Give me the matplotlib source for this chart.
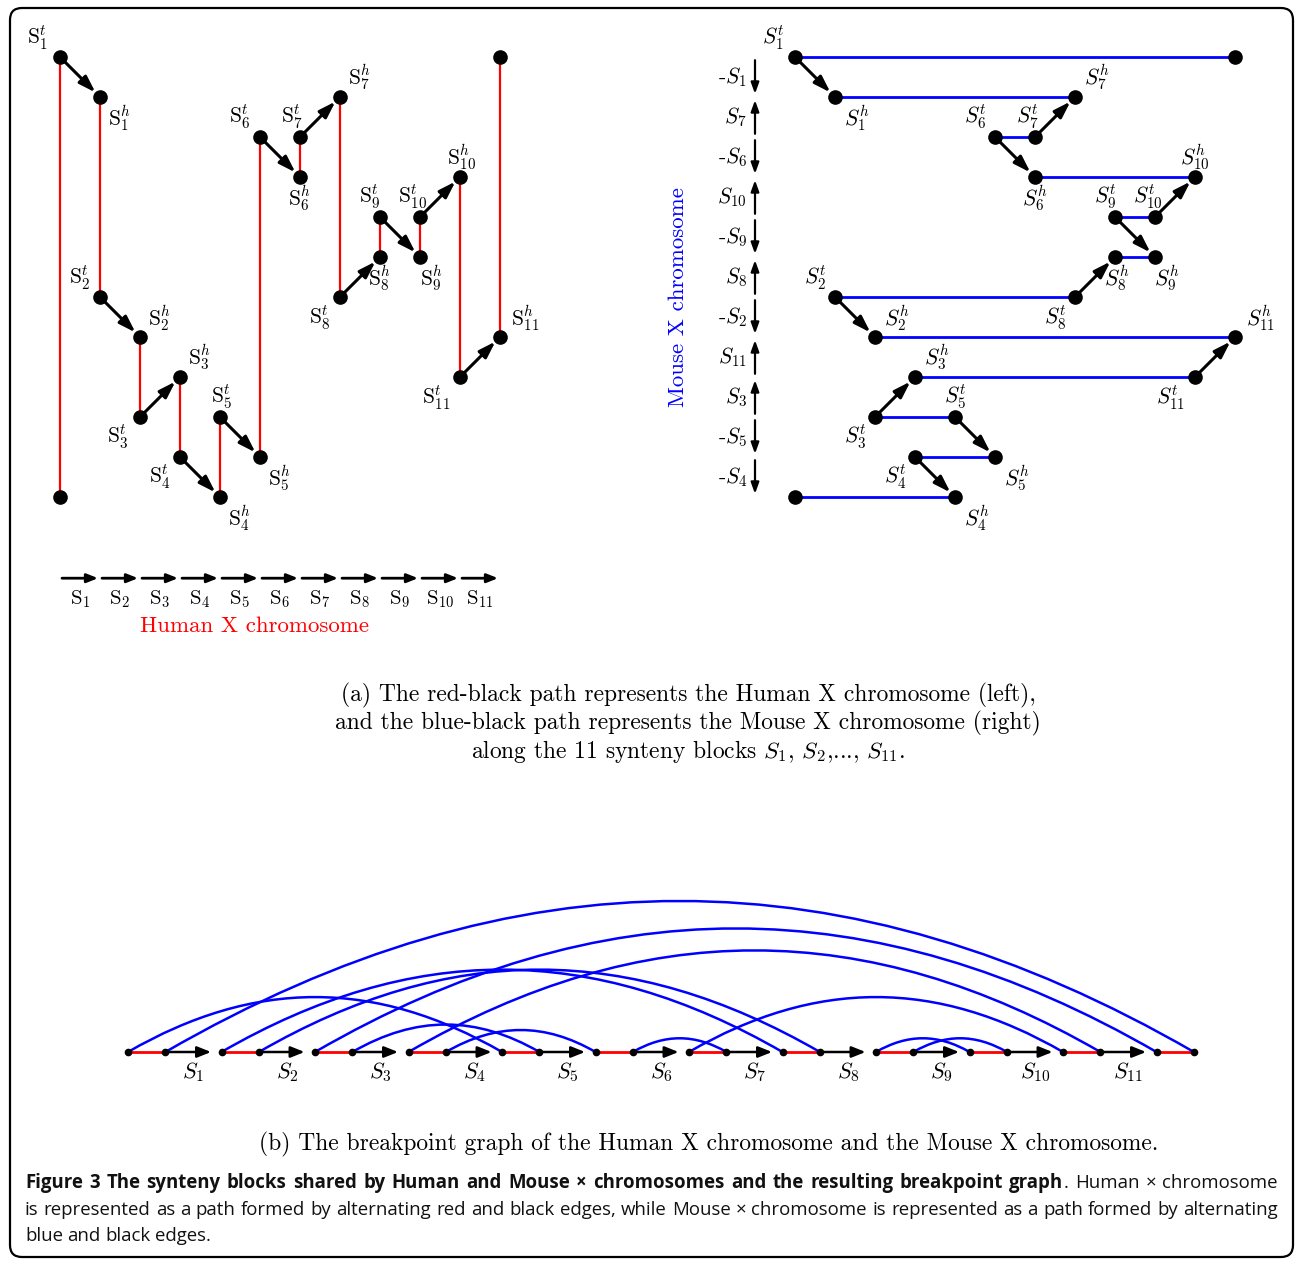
import matplotlib
matplotlib.use("Agg")
import matplotlib.pyplot as plt
from matplotlib.patches import FancyArrowPatch, FancyBboxPatch, PathPatch
from matplotlib.path import Path
import numpy as np

plt.rcParams['font.family'] = ['cmr10']
plt.rcParams['mathtext.fontset'] = 'cm'
plt.rcParams['axes.unicode_minus'] = False

# ---------------- data ----------------
human_blocks = [1, 2, 3, 4, 5, 6, 7, 8, 9, 10, 11]          # human order
mouse_order = [-1, 7, -6, 10, -9, 8, -2, 11, 3, -5, -4]      # mouse order (signed)
cap_rows = {'start': 11, 'end': 0}                           # rows of the two chromosome ends
human_axis_labels = [r'$\mathrm{S}_{%d}$' % b for b in human_blocks]
mouse_axis_labels = [('-' if s < 0 else '') + r'$S_{%d}$' % abs(s) for s in mouse_order]
graph_block_labels = [r'$S_{%d}$' % b for b in human_blocks]

# label placement (pixel offsets from node: dx right, dy down) -- layout only
left_off = {('t', 1): (-22, -19), ('h', 1): (20, 21), ('t', 2): (-20, -19), ('h', 2): (20, -19),
            ('t', 3): (-22, 20), ('h', 3): (20, -20), ('t', 4): (-20, 20), ('h', 4): (20, 21),
            ('t', 5): (2, -20), ('h', 5): (20, 21), ('t', 6): (-20, -20), ('h', 6): (0, 21),
            ('t', 7): (-8, -20), ('h', 7): (20, -20), ('t', 8): (-20, 21), ('h', 8): (0, 21),
            ('t', 9): (-10, -20), ('h', 9): (12, 21), ('t', 10): (-7, -20), ('h', 10): (2, -20),
            ('t', 11): (-24, 21), ('h', 11): (25, -19)}
right_off = {('t', 1): (-22, -19), ('h', 1): (22, 21), ('h', 7): (22, -20), ('t', 6): (-20, -20),
             ('t', 7): (-8, -20), ('h', 6): (0, 21), ('h', 10): (0, -20), ('t', 9): (-10, -20),
             ('t', 10): (-7, -20), ('h', 8): (2, 21), ('h', 9): (12, 21), ('t', 2): (-20, -19),
             ('t', 8): (-20, 21), ('h', 2): (22, -19), ('h', 11): (25, -19), ('h', 3): (22, -20),
             ('t', 11): (-25, 21), ('t', 5): (0, -20), ('t', 3): (-20, 20), ('h', 5): (22, 21),
             ('t', 4): (-20, 20), ('h', 4): (22, 21)}

# ---------------- derived graph structure ----------------
nodes = [('cap', 'start')] + [(e, b) for b in human_blocks for e in ('t', 'h')] + [('cap', 'end')]
n_cols = len(human_blocks)

def col_of(node):
    kind, b = node
    if kind == 'cap':
        return 0 if b == 'start' else n_cols
    return human_blocks.index(b) + (0 if kind == 't' else 1)

def row_of(node):
    kind, b = node
    if kind == 'cap':
        return cap_rows[b]
    for k, s in enumerate(mouse_order):
        if abs(s) == b:
            if s < 0:
                return k if kind == 't' else k + 1
            return k + 1 if kind == 't' else k

cols = [col_of(n) for n in nodes]
rows = [row_of(n) for n in nodes]
red_pairs = [(2 * j, 2 * j + 1) for j in range(len(nodes) // 2)]
black_pairs = [(2 * j + 1, 2 * j + 2) for j in range(len(human_blocks))]
blue_pairs = []
for r in range(len(mouse_order) + 1):
    idx = sorted([i for i in range(len(nodes)) if rows[i] == r], key=lambda i: cols[i])
    blue_pairs.append((idx[0], idx[1]))

# ---------------- figure ----------------
W, H = 1295, 1261
fig = plt.figure(figsize=(W / 100, H / 100), dpi=100)

def px_axes(x0, y0, x1, y1, ox, oy, u, yup=False):
    ax = fig.add_axes([x0 / W, 1 - y1 / H, (x1 - x0) / W, (y1 - y0) / H])
    ax.set_xlim((x0 - ox) / u, (x1 - ox) / u)
    if yup:
        ax.set_ylim((oy - y1) / u, (oy - y0) / u)
    else:
        ax.set_ylim((y1 - oy) / u, (y0 - oy) / u)
    ax.axis('off')
    ax.patch.set_alpha(0)
    return ax

ax0 = fig.add_axes([0, 0, 1, 1])
ax0.set_xlim(0, W)
ax0.set_ylim(H, 0)
ax0.axis('off')

BLUE = '#0000ff'
RED = '#ff0000'
LAB_FS = 15.5

def black_arrow(ax, p, q, shrinkB=4.6, ms=18, hl=0.55, hw=0.18, lw=2.2):
    ax.add_patch(FancyArrowPatch(p, q, arrowstyle='-|>,head_length=%g,head_width=%g' % (hl, hw),
                                 mutation_scale=ms, lw=lw, color='black', shrinkA=0,
                                 shrinkB=shrinkB, zorder=2))

# ---- left panel (human) ----
axL = px_axes(15, 12, 650, 660, 60, 57, 40)
for a, b in red_pairs:
    axL.plot([cols[a], cols[b]], [rows[a], rows[b]], color=RED, lw=1.6, zorder=1)
for a, b in black_pairs:
    black_arrow(axL, (cols[a], rows[a]), (cols[b], rows[b]))
axL.plot(cols, rows, 'o', ms=9.5, color='black', zorder=3)
for i, nd in enumerate(nodes):
    if nd in left_off:
        dx, dy = left_off[nd]
        axL.annotate(r'$\mathrm{S}_{%d}^{%s}$' % (nd[1], nd[0]), (cols[i], rows[i]),
                     xytext=(dx, -dy), textcoords='offset pixels', ha='center', va='center',
                     fontsize=LAB_FS)
for i, lab in enumerate(human_axis_labels):
    axL.add_patch(FancyArrowPatch((i + 0.05, 13.03), (i + 0.95, 13.03),
                                  arrowstyle='-|>,head_length=0.5,head_width=0.2',
                                  mutation_scale=13, lw=2, color='black', shrinkA=0, shrinkB=0))
    axL.text(i + 0.5, 13.55, lab, ha='center', va='center', fontsize=15)
axL.text(4.875, 14.22, 'Human X chromosome', color=RED, ha='center', va='center', fontsize=16.5)

# ---- right panel (mouse) ----
axR = px_axes(650, 12, 1290, 660, 795, 57, 40)
for a, b in blue_pairs:
    axR.plot([cols[a], cols[b]], [rows[a], rows[b]], color=BLUE, lw=2, zorder=1)
for a, b in black_pairs:
    black_arrow(axR, (cols[a], rows[a]), (cols[b], rows[b]))
axR.plot(cols, rows, 'o', ms=9.5, color='black', zorder=3)
for i, nd in enumerate(nodes):
    if nd in right_off:
        dx, dy = right_off[nd]
        axR.annotate(r'$S_{%d}^{%s}$' % (nd[1], nd[0]), (cols[i], rows[i]),
                     xytext=(dx, -dy), textcoords='offset pixels', ha='center', va='center',
                     fontsize=LAB_FS)
for k, (s, lab) in enumerate(zip(mouse_order, mouse_axis_labels)):
    top, bot = k + 0.08, k + 0.92
    p, q = ((-1, top), (-1, bot)) if s < 0 else ((-1, bot), (-1, top))
    axR.add_patch(FancyArrowPatch(p, q, arrowstyle='-|>,head_length=0.55,head_width=0.2',
                                  mutation_scale=12, lw=1.6, color='black', shrinkA=0, shrinkB=0))
    axR.text(-1.2, k + 0.5, lab, ha='right', va='center', fontsize=15.5)
axR.text(-2.925, 6.0, 'Mouse X chromosome', color=BLUE, rotation=90, ha='center', va='center',
         fontsize=16.5)

# ---- bottom panel (breakpoint graph) ----
axB = px_axes(15, 860, 1290, 1100, 128, 1052, 37.4, yup=True)
gx = [2.5 * (k // 2) + (k % 2) for k in range(len(nodes))]
for a, b in red_pairs:
    axB.plot([gx[a], gx[b]], [0, 0], color=RED, lw=2, zorder=1)
for j, (a, b) in enumerate(black_pairs):
    black_arrow(axB, (gx[a], 0), (gx[b], 0), shrinkB=7.5, ms=15, hl=0.55, hw=0.22, lw=1.8)
    axB.text((gx[a] + gx[b]) / 2, -0.55, graph_block_labels[j], ha='center', va='center',
             fontsize=16)
ang = np.deg2rad(30)
for a, b in blue_pairs:
    xa, xb = sorted([gx[a], gx[b]])
    d = 0.3915 * (xb - xa)
    verts = [(xa, 0), (xa + d * np.cos(ang), d * np.sin(ang)),
             (xb - d * np.cos(ang), d * np.sin(ang)), (xb, 0)]
    path = Path(verts, [Path.MOVETO, Path.CURVE4, Path.CURVE4, Path.CURVE4])
    axB.add_patch(PathPatch(path, fill=False, ec=BLUE, lw=1.8, zorder=1.5))
axB.plot(gx, [0] * len(gx), 'o', ms=4.5, color='black', zorder=3)

# ---- captions ----
CA_FS = 16.9
ax0.text(688, 701, '(a) The red-black path represents the Human X chromosome (left),',
         ha='center', va='baseline', fontsize=CA_FS)
ax0.text(688, 729, 'and the blue-black path represents the Mouse X chromosome (right)',
         ha='center', va='baseline', fontsize=CA_FS)
ax0.text(688, 758, r'along the 11 synteny blocks $S_1$, $S_2$,..., $S_{11}$.',
         ha='center', va='baseline', fontsize=CA_FS)
ax0.text(709, 1150, '(b) The breakpoint graph of the Human X chromosome and the Mouse X chromosome.',
         ha='center', va='baseline', fontsize=CA_FS)

ax0.add_patch(FancyBboxPatch((10, 8), 1283, 1249, boxstyle='round,pad=0,rounding_size=12',
                             fill=False, ec='black', lw=1.6))

renderer = fig.canvas.get_renderer()
CAP_FS = 13.4

def place_line(words, x0, x1, y, justify=True):
    items = []
    total = 0
    for w in words:
        parts = []
        for txt, wt in w:
            t = ax0.text(0, y, txt, fontsize=CAP_FS, fontweight=wt, family='Open Sans',
                         va='baseline', ha='left', color='#111111')
            wd = t.get_window_extent(renderer=renderer).width
            parts.append((t, wd))
            total += wd
        items.append(parts)
    if justify and len(items) > 1:
        gap = (x1 - x0 - total) / (len(items) - 1)
    else:
        gap = 4.6
    x = x0
    for parts in items:
        for t, wd in parts:
            t.set_x(x)
            x += wd
        x += gap

bold_part = 'Figure 3 The synteny blocks shared by Human and Mouse \u00d7 chromosomes and the resulting breakpoint'.split()
line1 = [[(w, 'bold')] for w in bold_part] + [[('graph', 'bold'), ('.', 'normal')]] + \
        [[(w, 'normal')] for w in 'Human \u00d7 chromosome'.split()]
line2 = [[(w, 'normal')] for w in ('is represented as a path formed by alternating red and black edges, '
                                   'while Mouse \u00d7 chromosome is represented as a path formed by '
                                   'alternating').split()]
line3 = [[(w, 'normal')] for w in 'blue and black edges.'.split()]
place_line(line1, 25, 1278, 1188)
place_line(line2, 25, 1278, 1215)
place_line(line3, 25, 1278, 1241, justify=False)

fig.savefig('out.png', dpi=100)
